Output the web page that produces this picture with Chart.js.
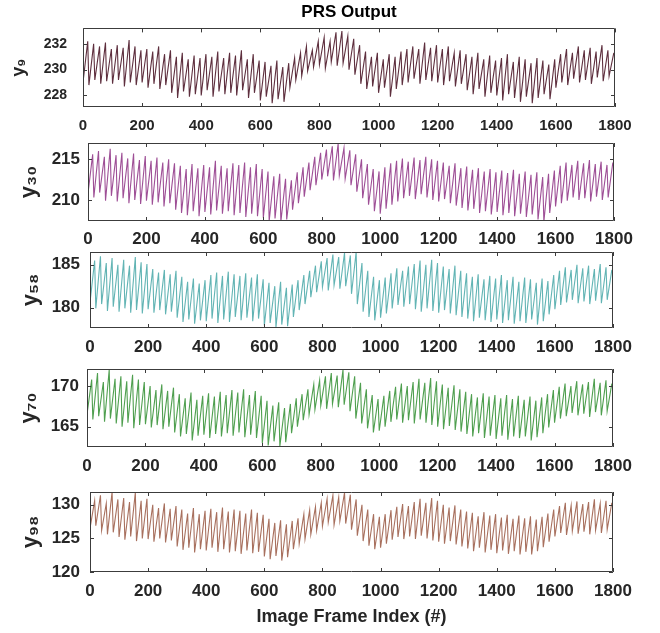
<!DOCTYPE html>
<html>
<head>
<meta charset="utf-8">
<script src="https://cdn.jsdelivr.net/npm/chart.js@4.4.1/dist/chart.umd.min.js"></script>
<style>
  html, body { margin: 0; padding: 0; background: #ffffff; }
  #wrap { position: relative; width: 660px; height: 633px; overflow: hidden; background: #fff; }
  #wrap canvas { position: absolute; left: 0; }
</style>
</head>
<body>
<div id="wrap">
  <canvas id="c1" width="660" height="137"></canvas>
  <canvas id="c2" width="660" height="112"></canvas>
  <canvas id="c3" width="660" height="109"></canvas>
  <canvas id="c4" width="660" height="112"></canvas>
  <canvas id="c5" width="660" height="146"></canvas>
</div>
<script>
// ---------- DATA ----------
const chartTitle = 'PRS Output';
const xAxisTitle = 'Image Frame Index (#)';
const xTicks = [0, 200, 400, 600, 800, 1000, 1200, 1400, 1600, 1800];

// frame index of each cycle's low point and high point
const troughFrames = [0,20,40,60,80,100,120,140,160,180,200,220,240,260,280,300,320,340,360,380,400,420,440,460,480,500,520,540,560,580,600,620,640,660,680,700,720,740,760,780,800,820,840,860,880,900,920,940,960,980,1000,1020,1040,1060,1080,1100,1120,1140,1160,1180,1200,1220,1240,1260,1280,1300,1320,1340,1360,1380,1400,1420,1440,1460,1480,1500,1520,1540,1560,1580,1600,1620,1640,1660,1680,1700,1720,1740,1760,1780];
const peakFrames = [16,36,56,76,96,116,136,156,176,196,216,236,256,276,296,316,336,356,376,396,416,436,456,476,496,516,536,556,576,596,616,636,656,676,696,716,736,756,776,796,816,836,856,876,896,916,936,956,976,996,1016,1036,1056,1076,1096,1116,1136,1156,1176,1196,1216,1236,1256,1276,1296,1316,1336,1356,1376,1396,1416,1436,1456,1476,1496,1516,1536,1556,1576,1596,1616,1636,1656,1676,1696,1716,1736,1756,1776,1796];

// y9
const y9Peaks = [232.2,232.0,231.8,232.1,231.6, 231.9,231.7,232.3,231.8,231.5, 231.6,231.4,231.8,231.2,231.5, 231.0,231.3,230.8,231.1,230.9, 231.2,231.0,231.4,230.9,231.3, 231.1,231.5,230.8,231.2,230.7, 230.6,230.3,230.7,230.2,230.5, 230.9,231.3,231.8,231.5,232.2, 232.5,232.2,232.9,233.0,232.6, 232.4,231.9,231.4,231.0,231.3, 230.8,231.2,231.0,231.4,231.6, 231.8,231.6,232.1,231.7,231.9, 231.6,231.8,231.3,231.5,231.2, 231.0,231.3,230.8,231.1,230.7, 230.9,231.2,230.6,231.0,230.8, 230.5,230.9,230.7,230.4,230.8, 231.2,231.6,231.3,231.8,231.5, 231.7,231.4,231.9,231.5,231.3];
const y9Troughs = [229.0,228.8,229.2,228.9,229.1, 228.9,229.2,228.7,229.0,228.8, 229.0,228.6,228.9,228.5,228.8, 228.2,227.8,228.3,227.9,228.1, 228.0,228.4,227.9,228.3,228.1, 228.2,228.0,228.4,227.8,228.2, 227.6,227.9,227.4,227.7,227.5, 228.6,229.2,229.5,229.9,230.2, 230.4,230.1,230.6,230.3,230.5, 230.0,229.6,228.9,228.5,228.7, 228.2,228.6,227.9,228.5,228.8, 229.0,229.3,228.9,229.2,229.1, 229.0,228.8,229.1,228.7,228.9, 228.4,228.1,228.5,227.9,228.2, 228.0,227.6,228.1,227.8,227.5, 227.9,227.4,227.8,228.1,227.7, 228.6,229.0,228.8,229.3,229.0, 229.2,228.9,229.4,229.1,229.5];

// y30
const y30Peaks = [215.6,216.0,215.3,216.3,215.5, 215.8,215.1,215.7,214.9,215.4, 214.8,215.2,214.6,215.0,214.5, 214.2,213.8,214.4,213.9,214.3, 214.0,214.8,214.2,213.9,214.5, 214.3,214.6,214.0,214.4,213.8, 213.5,212.9,213.2,212.6,212.4, 213.4,214.0,214.6,215.3,215.8, 216.2,216.6,216.9,216.4,216.1, 215.6,215.0,214.4,213.8,213.5, 214.0,214.5,214.8,215.1,214.7, 215.2,214.9,215.3,215.0,214.8, 214.6,214.2,214.5,213.9,214.1, 213.7,213.9,213.5,213.8,213.4, 213.6,213.3,213.7,213.2,213.5, 213.1,213.4,212.8,213.2,213.6, 214.2,214.6,214.3,214.8,214.5, 214.9,214.4,214.7,214.3,214.6];
const y30Troughs = [210.8,210.3,210.9,209.9,210.5, 209.8,210.2,209.6,210.0,209.5, 209.9,209.4,209.7,209.2,209.6, 208.8,208.4,208.1,208.6,208.0, 208.5,208.2,208.7,208.3,208.6, 208.1,208.4,207.9,208.3,208.0, 207.8,207.4,207.7,207.3,207.6, 208.8,209.6,210.4,211.2,211.8, 212.5,212.9,212.4,213.0,212.6, 211.8,211.0,210.2,209.4,208.6, 208.3,208.9,209.4,209.8,210.2, 210.5,210.1,210.7,210.3,210.0, 209.8,210.1,209.6,209.3,209.0, 208.7,208.9,208.4,208.6,208.2, 208.5,208.1,208.4,208.0,208.3, 207.9,208.2,207.6,207.3,208.4, 209.2,209.6,209.9,210.3,210.0, 210.2,209.8,210.4,210.0,210.3];

// y58
const y58Peaks = [185.5,186.0,185.2,185.8,185.0, 185.6,184.9,185.9,185.3,185.1, 184.5,184.1,184.4,183.9,184.3, 183.6,183.0,183.4,182.8,183.2, 183.8,184.1,183.7,184.2,183.9, 183.7,184.0,183.5,183.9,183.3, 182.9,182.5,183.0,182.3,182.7, 183.2,183.8,184.3,184.9,185.4, 185.8,186.2,185.9,186.4,186.1, 186.5,185.2,184.3,183.6,183.2, 183.5,184.0,184.6,184.3,184.8, 185.1,185.5,185.0,185.6,185.2, 184.8,184.5,184.9,184.3,184.0, 183.6,183.9,183.3,183.7,183.4, 183.8,183.2,183.6,183.0,183.5, 183.3,182.9,183.4,183.1,183.8, 184.3,184.7,184.4,185.0,184.6, 184.9,184.5,185.1,184.7,184.4];
const y58Troughs = [180.6,179.9,180.4,179.6,180.1, 179.5,179.9,179.4,179.7,179.3, 179.8,179.4,179.7,179.2,179.5, 178.8,178.3,178.6,178.1,178.5, 178.4,178.7,178.2,178.6,178.3, 178.9,178.5,178.8,178.4,178.7, 177.9,178.2,177.7,178.0,177.8, 178.9,179.7,180.4,181.2,181.8, 182.4,182.0,182.6,182.2,182.5, 181.6,180.4,179.5,178.9,178.5, 178.8,179.3,179.9,180.3,180.1, 180.4,179.8,179.5,179.9,179.6, 179.4,179.7,179.3,179.1,178.9, 178.7,178.4,178.8,178.5,178.3, 178.6,178.2,178.5,178.1,178.4, 178.2,178.6,178.0,178.4,179.2, 179.8,180.3,180.6,180.9,180.5, 180.7,180.4,180.8,180.5,180.9];

// y70
const y70Peaks = [170.8,171.6,170.5,172.0,170.9, 171.2,170.6,171.4,170.8,170.5, 170.0,169.5,170.2,169.4,169.8, 169.0,168.5,169.2,168.3,168.8, 169.1,168.7,169.3,168.9,169.5, 169.2,169.6,168.9,169.4,168.8, 168.2,167.6,168.0,167.3,167.8, 168.5,169.0,169.6,170.2,170.7, 171.2,171.6,171.3,172.0,171.7, 171.2,170.4,169.6,168.9,168.4, 168.8,169.4,169.9,170.3,170.0, 170.5,170.9,170.4,171.0,170.6, 170.2,169.8,170.1,169.6,169.3, 169.0,168.6,169.1,168.7,168.9, 168.5,168.9,168.4,168.8,168.3, 168.7,168.2,168.6,169.0,169.5, 169.9,170.3,170.0,170.6,170.2, 170.5,170.9,170.4,170.7,170.3];
const y70Troughs = [166.5,165.9,166.3,165.6,166.0, 165.4,165.0,165.5,164.8,165.2, 165.3,164.9,165.2,164.7,165.0, 164.3,163.8,164.1,163.3,163.9, 164.0,163.6,164.1,163.8,164.2, 163.9,164.3,163.7,164.0,163.6, 163.0,162.7,163.2,162.6,163.1, 164.2,165.0,165.8,166.5,167.1, 167.6,167.2,167.8,167.4,167.7, 166.9,166.0,165.4,164.8,164.3, 164.5,165.0,165.6,165.9,165.5, 165.8,165.4,165.9,165.5,165.2, 165.0,164.7,165.1,164.6,164.4, 164.1,163.8,164.2,163.6,163.9, 163.5,163.9,163.4,163.8,163.6, 163.8,163.3,163.7,164.2,164.9, 165.5,166.0,166.3,166.7,166.4, 166.6,166.2,166.8,166.4,166.9];

// y98
const y98Peaks = [130.6,131.4,130.2,131.9,130.8, 131.0,130.4,131.8,130.6,130.9, 130.0,129.5,130.2,129.4,129.8, 129.3,128.7,129.5,128.6,129.1, 129.4,128.9,129.6,129.0,129.3, 129.1,128.7,129.3,128.8,128.5, 127.9,127.3,127.7,127.1,127.6, 128.0,128.6,129.2,129.7,130.3, 130.9,131.4,131.1,131.8,131.5, 130.8,130.0,129.3,128.6,128.2, 128.6,129.2,129.7,130.1,129.8, 130.4,130.9,130.3,131.0,130.6, 130.0,129.6,129.9,129.3,129.0, 128.8,128.3,128.9,128.4,128.6, 128.1,128.5,127.9,128.4,128.0, 128.3,127.8,128.2,128.7,129.3, 129.8,130.3,129.9,130.5,130.1, 130.4,130.8,130.2,130.6,130.3];
const y98Troughs = [126.5,126.9,126.2,125.6,125.9, 125.2,124.8,125.3,124.6,125.0, 124.9,124.5,125.0,124.4,124.7, 123.8,123.3,123.6,122.9,123.4, 123.2,123.6,123.0,123.4,122.9, 123.1,122.7,123.2,122.8,123.0, 122.3,121.9,122.4,121.7,122.2, 123.4,124.2,124.9,125.6,126.2, 126.8,127.4,127.0,127.6,127.2, 126.3,125.4,124.6,123.9,123.4, 123.6,124.2,124.8,125.2,124.9, 125.3,124.9,125.4,125.0,124.7, 124.5,124.2,124.6,124.1,123.8, 123.5,123.1,123.6,122.9,123.3, 122.8,123.2,122.7,123.1,122.6, 123.0,122.6,123.1,123.7,124.5, 125.3,125.8,125.5,126.1,125.7, 126.0,125.6,126.2,125.8,126.3];

const panelLabels = ['y\u2089', 'y\u2083\u2080', 'y\u2085\u2088', 'y\u2087\u2080', 'y\u2089\u2088'];
const panelYTicks = [[228, 230, 232], [210, 215], [180, 185], [165, 170], [120, 125, 130]];
const panelYRange = [[227.1, 233.2], [207.4, 217.0], [177.6, 186.5], [162.5, 172.1], [120.0, 131.9]];
const panelPeaks = [y9Peaks, y30Peaks, y58Peaks, y70Peaks, y98Peaks];
const panelTroughs = [y9Troughs, y30Troughs, y58Troughs, y70Troughs, y98Troughs];

// ---------- STYLE / LAYOUT ----------
const FONT = "'Liberation Sans', Arial, Helvetica, sans-serif";
const layoutSpec = [
  { top: 0,   padTop: 0, left: 83, right: 615, xh: 30, ytf: 14, xtf: 15, ygap: 16, xgap: 10, ttf: 18, tpad: 8,  color: '#5e2f3e' },
  { top: 137, padTop: 6, left: 88, right: 614, xh: 28, ytf: 17, xtf: 17, ygap: 8,  xgap: 8,  ttf: 22, tpad: 16, color: '#9e4f96' },
  { top: 247, padTop: 5, left: 90, right: 613, xh: 28, ytf: 17, xtf: 17, ygap: 10, xgap: 9,  ttf: 22, tpad: 18, color: '#62b4b4' },
  { top: 363, padTop: 6, left: 87, right: 613, xh: 28, ytf: 17, xtf: 17, ygap: 8,  xgap: 9,  ttf: 22, tpad: 16, color: '#4f9f4f' },
  { top: 486, padTop: 6, left: 90, right: 613, xh: 60, ytf: 17, xtf: 17, ygap: 10, xgap: 9,  ttf: 22, tpad: 18, color: '#a8705e' }
];

const framePlugin = {
  id: 'frameTicks',
  afterDraw(chart) {
    const { ctx, chartArea: a } = chart;
    const xs = chart.scales.x, ys = chart.scales.y;
    ctx.save();
    ctx.strokeStyle = '#3c3c3c';
    ctx.lineWidth = 1;
    ctx.beginPath();
    ctx.rect(Math.round(a.left) + 0.5, Math.round(a.top) + 0.5, Math.round(a.right - a.left) - 1, Math.round(a.bottom - a.top) - 1);
    const L = 4;
    xs.ticks.forEach(t => {
      const px = Math.round(xs.getPixelForValue(t.value)) + 0.5;
      ctx.moveTo(px, a.bottom); ctx.lineTo(px, a.bottom - L);
      ctx.moveTo(px, a.top); ctx.lineTo(px, a.top + L);
    });
    ys.ticks.forEach(t => {
      const py = Math.round(ys.getPixelForValue(t.value)) + 0.5;
      ctx.moveTo(a.left, py); ctx.lineTo(a.left + L, py);
      ctx.moveTo(a.right, py); ctx.lineTo(a.right - L, py);
    });
    ctx.stroke();
    ctx.restore();
  }
};

function buildSeries(lows, highs) {
  const pts = [];
  for (let k = 0; k < troughFrames.length; k++) {
    pts.push({ x: troughFrames[k], y: lows[k] });
    pts.push({ x: peakFrames[k], y: highs[k] });
  }
  return pts;
}

layoutSpec.forEach((s, i) => {
  const cv = document.getElementById('c' + (i + 1));
  cv.style.top = s.top + 'px';
  const isLast = i === layoutSpec.length - 1;
  new Chart(cv, {
    type: 'line',
    data: {
      datasets: [{
        data: buildSeries(panelTroughs[i], panelPeaks[i]),
        borderColor: s.color,
        borderWidth: 1.1,
        pointRadius: 0,
        tension: 0,
        fill: false
      }]
    },
    options: {
      responsive: false,
      animation: false,
      devicePixelRatio: 1,
      layout: { padding: { left: 0, right: 660 - s.right, top: s.padTop, bottom: 0 } },
      plugins: {
        legend: { display: false },
        tooltip: { enabled: false },
        title: {
          display: i === 0,
          text: chartTitle,
          fullSize: false,
          color: '#000',
          font: { family: FONT, size: 17, weight: 'bold' },
          padding: { top: 2, bottom: 6 }
        }
      },
      scales: {
        x: {
          type: 'linear',
          min: 0, max: 1800,
          afterBuildTicks: sc => { sc.ticks = xTicks.map(v => ({ value: v })); },
          afterFit: sc => { sc.height = s.xh; sc.paddingLeft = 0; sc.paddingRight = 0; },
          grid: { display: false, drawTicks: false, tickLength: 0 },
          border: { display: false },
          ticks: { color: '#262626', padding: s.xgap, maxRotation: 0, autoSkip: false,
                   callback: v => String(v),
                   font: { family: FONT, size: s.xtf, weight: 'bold' } },
          title: {
            display: isLast, text: xAxisTitle, color: '#262626',
            font: { family: FONT, size: 18, weight: 'bold' },
            padding: { top: 0, bottom: 4 }
          }
        },
        y: {
          type: 'linear',
          min: panelYRange[i][0], max: panelYRange[i][1],
          afterBuildTicks: sc => { sc.ticks = panelYTicks[i].map(v => ({ value: v })); },
          afterFit: sc => { sc.width = s.left; sc.paddingTop = 0; sc.paddingBottom = 0; },
          grid: { display: false, drawTicks: false, tickLength: 0 },
          border: { display: false },
          ticks: { color: '#262626', padding: s.ygap, autoSkip: false,
                   callback: v => String(v),
                   font: { family: FONT, size: s.ytf, weight: 'bold' } },
          title: {
            display: true, text: panelLabels[i], color: '#262626',
            font: { family: FONT, size: s.ttf, weight: 'bold' },
            padding: { top: s.tpad, bottom: 0 }
          }
        }
      }
    },
    plugins: [framePlugin]
  });
});
</script>
</body>
</html>
